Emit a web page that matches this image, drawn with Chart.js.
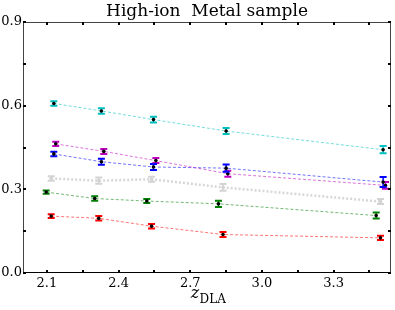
<!DOCTYPE html>
<html>
<head>
<meta charset="utf-8">
<script src="https://cdn.jsdelivr.net/npm/chart.js@4"></script>
<style>
  body { margin: 0; background: #fff; }
  #wrap { width: 395px; height: 310px; }
</style>
</head>
<body>
<div id="wrap"><canvas id="myChart" width="395" height="310"></canvas></div>
<script>
'use strict';

// values
var seriesNames = ['cyan', 'magenta', 'blue', 'gray', 'green', 'red'];
var seriesColors = ['rgb(0,191,191)', 'rgb(191,0,191)', 'rgb(0,0,255)', 'rgb(211,211,211)', 'rgb(0,128,0)', 'rgb(255,0,0)'];
var lineColors = ['rgba(0,191,191,0.55)', 'rgba(191,0,191,0.55)', 'rgba(0,0,255,0.55)', 'rgba(211,211,211,0.9)', 'rgba(0,128,0,0.55)', 'rgba(255,0,0,0.55)'];
var dotColors = ['#000', '#000', '#000', 'rgb(211,211,211)', '#000', '#000'];

var cyanX = [2.129, 2.328, 2.546, 2.850, 3.507];
var cyanY = [0.608, 0.581, 0.550, 0.509, 0.442];
var cyanErr = [0.008, 0.010, 0.010, 0.011, 0.013];

var magentaX = [2.137, 2.338, 2.556, 2.857, 3.517];
var magentaY = [0.463, 0.436, 0.403, 0.356, 0.314];
var magentaErr = [0.008, 0.009, 0.009, 0.011, 0.012];

var blueX = [2.129, 2.328, 2.546, 2.850, 3.507];
var blueY = [0.427, 0.399, 0.380, 0.376, 0.326];
var blueErr = [0.008, 0.011, 0.011, 0.013, 0.018];

var grayX = [2.118, 2.317, 2.538, 2.837, 3.496];
var grayY = [0.339, 0.331, 0.336, 0.307, 0.256];
var grayErr = [0.008, 0.011, 0.009, 0.012, 0.009];

var greenX = [2.097, 2.300, 2.518, 2.818, 3.478];
var greenY = [0.290, 0.267, 0.258, 0.248, 0.206];
var greenErr = [0.006, 0.008, 0.007, 0.011, 0.011];

var redX = [2.118, 2.317, 2.538, 2.837, 3.496];
var redY = [0.204, 0.196, 0.168, 0.138, 0.126];
var redErr = [0.007, 0.008, 0.008, 0.009, 0.008];

var allX = [cyanX, magentaX, blueX, grayX, greenX, redX];
var allY = [cyanY, magentaY, blueY, grayY, greenY, redY];
var allErr = [cyanErr, magentaErr, blueErr, grayErr, greenErr, redErr];

var xMajorTicks = [2.1, 2.4, 2.7, 3.0, 3.3];
var xMinorTicks = [2.25, 2.55, 2.85, 3.15, 3.45];
var yMajorTicks = [0.0, 0.3, 0.6, 0.9];
var yMinorTicks = [0.15, 0.45, 0.75];

var titleText = 'High-ion  Metal sample';

function makeData(i) {
  var pts = [];
  for (var j = 0; j < allX[i].length; j++) {
    pts.push({ x: allX[i][j], y: allY[i][j], err: allErr[i][j] });
  }
  return pts;
}

var datasets = [];
for (var i = 0; i < seriesNames.length; i++) {
  datasets.push({
    label: seriesNames[i],
    data: makeData(i),
    showLine: true,
    borderColor: lineColors[i],
    borderWidth: i === 3 ? 2.5 : 1,
    borderDash: i === 3 ? [2, 2] : [3, 2],
    pointRadius: 0,
    errColor: seriesColors[i],
    dotColor: dotColors[i]
  });
}

// error bars + dots
var errorBars = {
  id: 'errorBars',
  afterDatasetsDraw: function(chart) {
    var ctx = chart.ctx;
    var xs = chart.scales.x, ys = chart.scales.y;
    ctx.save();
    chart.data.datasets.forEach(function(ds) {
      ds.data.forEach(function(p) {
        var px = xs.getPixelForValue(p.x);
        var top = ys.getPixelForValue(p.y + p.err);
        var bot = ys.getPixelForValue(p.y - p.err);
        ctx.strokeStyle = ds.errColor;
        ctx.lineWidth = 1.5;
        ctx.beginPath();
        ctx.moveTo(px, top); ctx.lineTo(px, bot);
        ctx.stroke();
        ctx.lineWidth = 2;
        ctx.beginPath();
        ctx.moveTo(px - 3.5, top); ctx.lineTo(px + 3.5, top);
        ctx.moveTo(px - 3.5, bot); ctx.lineTo(px + 3.5, bot);
        ctx.stroke();
        ctx.fillStyle = ds.dotColor;
        ctx.beginPath();
        ctx.arc(px, ys.getPixelForValue(p.y), 1.8, 0, Math.PI * 2);
        ctx.fill();
      });
    });
    ctx.restore();
  }
};

// frame, inward ticks, title and x label
var frame = {
  id: 'frame',
  afterDraw: function(chart) {
    var ctx = chart.ctx;
    var a = chart.chartArea;
    var xs = chart.scales.x, ys = chart.scales.y;
    ctx.save();
    ctx.strokeStyle = '#444';
    ctx.lineWidth = 1;
    ctx.strokeRect(a.left + 0.5, a.top + 0.5, a.right - a.left - 1, a.bottom - a.top - 1);
    ctx.strokeStyle = '#000';
    ctx.beginPath();
    ctx.moveTo(a.left, a.bottom - 0.5); ctx.lineTo(a.right, a.bottom - 0.5);
    ctx.stroke();

    ctx.lineWidth = 2;
    ctx.beginPath();
    xMajorTicks.concat(xMinorTicks).forEach(function(v) {
      var px = Math.round(xs.getPixelForValue(v));
      ctx.moveTo(px, a.bottom); ctx.lineTo(px, a.bottom - 3);
      ctx.moveTo(px, a.top); ctx.lineTo(px, a.top + 3);
    });
    yMajorTicks.concat(yMinorTicks).forEach(function(v) {
      var py = Math.round(ys.getPixelForValue(v));
      ctx.moveTo(a.left, py); ctx.lineTo(a.left + 3, py);
      ctx.moveTo(a.right, py); ctx.lineTo(a.right - 3, py);
    });
    ctx.stroke();

    ctx.fillStyle = '#000';
    ctx.textAlign = 'center';
    ctx.textBaseline = 'alphabetic';
    ctx.font = '17px "DejaVu Serif"';
    ctx.fillText(titleText, (a.left + a.right) / 2, 16);

    // z_DLA
    var cx = (a.left + a.right) / 2;
    ctx.textAlign = 'left';
    ctx.font = 'italic 16px "DejaVu Serif"';
    var zw = ctx.measureText('z').width;
    ctx.font = '12px "DejaVu Serif"';
    var dw = ctx.measureText('DLA').width;
    var x0 = cx - (zw + dw) / 2 + 1;
    ctx.font = 'italic 16px "DejaVu Serif"';
    ctx.fillText('z', x0, 298);
    ctx.font = '12px "DejaVu Serif"';
    ctx.fillText('DLA', x0 + zw + 0.5, 303);
    ctx.restore();
  }
};

var ctx = document.getElementById('myChart').getContext('2d');
var chart = new Chart(ctx, {
  type: 'scatter',
  data: { datasets: datasets },
  options: {
    responsive: false,
    animation: false,
    layout: { padding: { top: 22, right: 4, left: 0, bottom: 0 } },
    plugins: { legend: { display: false }, tooltip: { enabled: false } },
    scales: {
      x: {
        type: 'linear',
        min: 2.0,
        max: 3.54,
        grid: { display: false, drawTicks: false },
        border: { display: false },
        afterBuildTicks: function(scale) {
          scale.ticks = xMajorTicks.map(function(v) { return { value: v }; });
        },
        afterFit: function(scale) { scale.height = 37; },
        ticks: {
          padding: 3,
          maxRotation: 0,
          autoSkip: false,
          color: '#000',
          font: { family: 'DejaVu Serif', size: 13 },
          callback: function(v) { return v.toFixed(1); }
        }
      },
      y: {
        type: 'linear',
        min: 0,
        max: 0.9,
        grid: { display: false, drawTicks: false },
        border: { display: false },
        afterBuildTicks: function(scale) {
          scale.ticks = yMajorTicks.map(function(v) { return { value: v }; });
        },
        afterFit: function(scale) { scale.width = 23; },
        ticks: {
          padding: 1,
          autoSkip: false,
          color: '#000',
          font: { family: 'DejaVu Serif', size: 13 },
          callback: function(v) { return v.toFixed(1); }
        }
      }
    }
  },
  plugins: [errorBars, frame]
});
</script>
</body>
</html>
